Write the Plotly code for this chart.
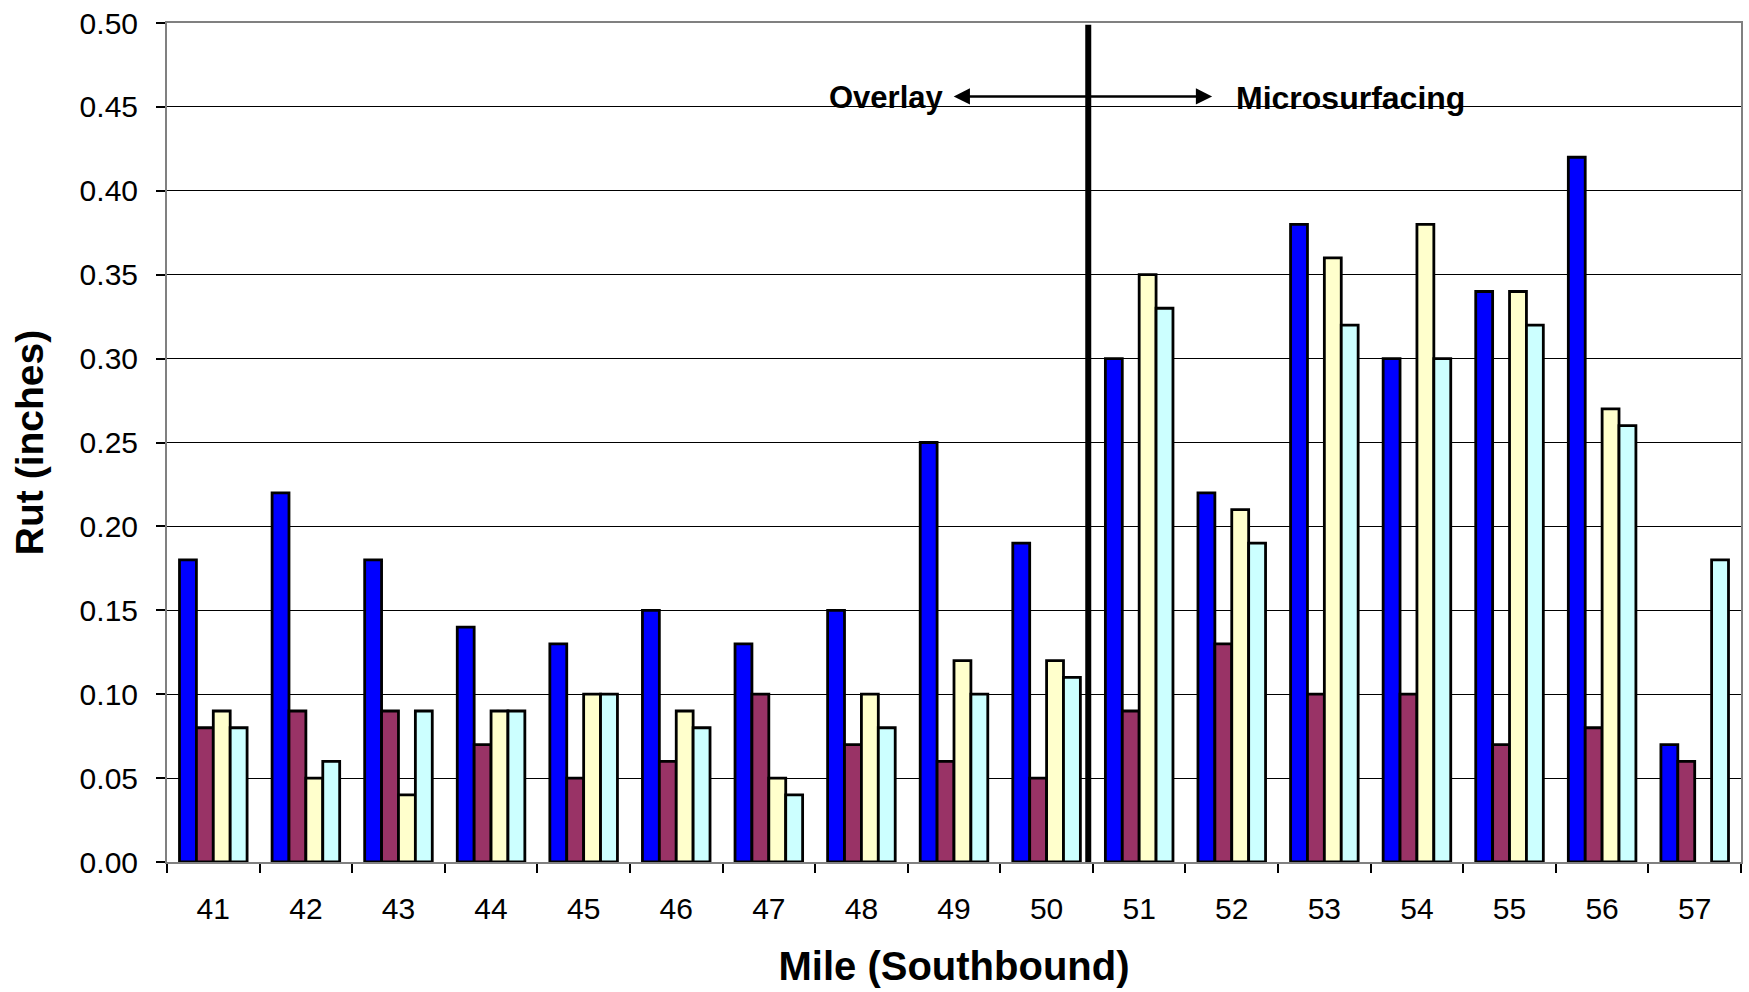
import plotly.graph_objects as go

miles = ["41", "42", "43", "44", "45", "46", "47", "48", "49", "50",
         "51", "52", "53", "54", "55", "56", "57"]
series1 = [0.18, 0.22, 0.18, 0.14, 0.13, 0.15, 0.13, 0.15, 0.25, 0.19,
           0.30, 0.22, 0.38, 0.30, 0.34, 0.42, 0.07]
series2 = [0.08, 0.09, 0.09, 0.07, 0.05, 0.06, 0.10, 0.07, 0.06, 0.05,
           0.09, 0.13, 0.10, 0.10, 0.07, 0.08, 0.06]
series3 = [0.09, 0.05, 0.04, 0.09, 0.10, 0.09, 0.05, 0.10, 0.12, 0.12,
           0.35, 0.21, 0.36, 0.38, 0.34, 0.27, None]
series4 = [0.08, 0.06, 0.09, 0.09, 0.10, 0.08, 0.04, 0.08, 0.10, 0.11,
           0.33, 0.19, 0.32, 0.30, 0.32, 0.26, 0.18]
colors = ["#0000FF", "#993366", "#FFFFCC", "#CCFFFF"]
y_ticks = [0.0, 0.05, 0.10, 0.15, 0.20, 0.25, 0.30, 0.35, 0.40, 0.45, 0.50]

FONT = "Liberation Sans, Arial, Helvetica, sans-serif"

fig = go.Figure()
for vals, col in zip([series1, series2, series3, series4], colors):
    fig.add_trace(go.Bar(
        x=miles, y=vals,
        marker=dict(color=col, line=dict(color="black", width=2.8)),
        showlegend=False,
    ))

fig.update_layout(
    width=1749, height=992,
    margin=dict(l=167, r=6, t=20, b=130),
    paper_bgcolor="white", plot_bgcolor="white",
    barmode="group", bargap=0.27, bargroupgap=0,
    font=dict(family=FONT, size=30, color="black"),
)

fig.update_xaxes(
    type="category", tickson="boundaries",
    ticks="outside", ticklen=9, tickwidth=1.5, tickcolor="black",
    showline=True, linecolor="#808080", linewidth=2, mirror=True,
    showgrid=False,
    tickfont=dict(size=30),
    ticklabelstandoff=19,
    title=dict(text="<b>Mile (Southbound)</b>", font=dict(size=40), standoff=28),
)
fig.update_yaxes(
    range=[0, 0.5], tickvals=y_ticks, tickformat=".2f",
    ticks="outside", ticklen=9, tickwidth=1.5, tickcolor="black",
    showline=True, linecolor="#808080", linewidth=2, mirror=True,
    showgrid=True, gridcolor="black", gridwidth=1.2,
    zeroline=False,
    tickfont=dict(size=30),
    ticklabelstandoff=12,
    title=dict(text="<b>Rut (inches)</b>", font=dict(size=39), standoff=24),
)

# Divider between overlay and microsurfacing sections
fig.add_shape(type="line", xref="x", yref="paper",
              x0=9.45, x1=9.45, y0=0, y1=0.998,
              line=dict(color="black", width=6))

arrow_y = 0.9125
fig.add_annotation(xref="paper", yref="paper", x=0.4998, y=arrow_y,
                   ax=134.5, ay=0, text="", showarrow=True,
                   arrowhead=2, arrowsize=1.3, arrowwidth=2.5, arrowcolor="black")
fig.add_annotation(xref="paper", yref="paper", x=0.664, y=arrow_y,
                   ax=-124.5, ay=0, text="", showarrow=True,
                   arrowhead=2, arrowsize=1.3, arrowwidth=2.5, arrowcolor="black")
fig.add_annotation(xref="paper", yref="paper", x=0.4573, y=0.911,
                   text="<b>Overlay</b>", showarrow=False,
                   font=dict(size=31), xanchor="center", yanchor="middle")
fig.add_annotation(xref="paper", yref="paper", x=0.7518, y=0.911,
                   text="<b>Microsurfacing</b>", showarrow=False,
                   font=dict(size=32), xanchor="center", yanchor="middle")

fig.write_html("out.html")
